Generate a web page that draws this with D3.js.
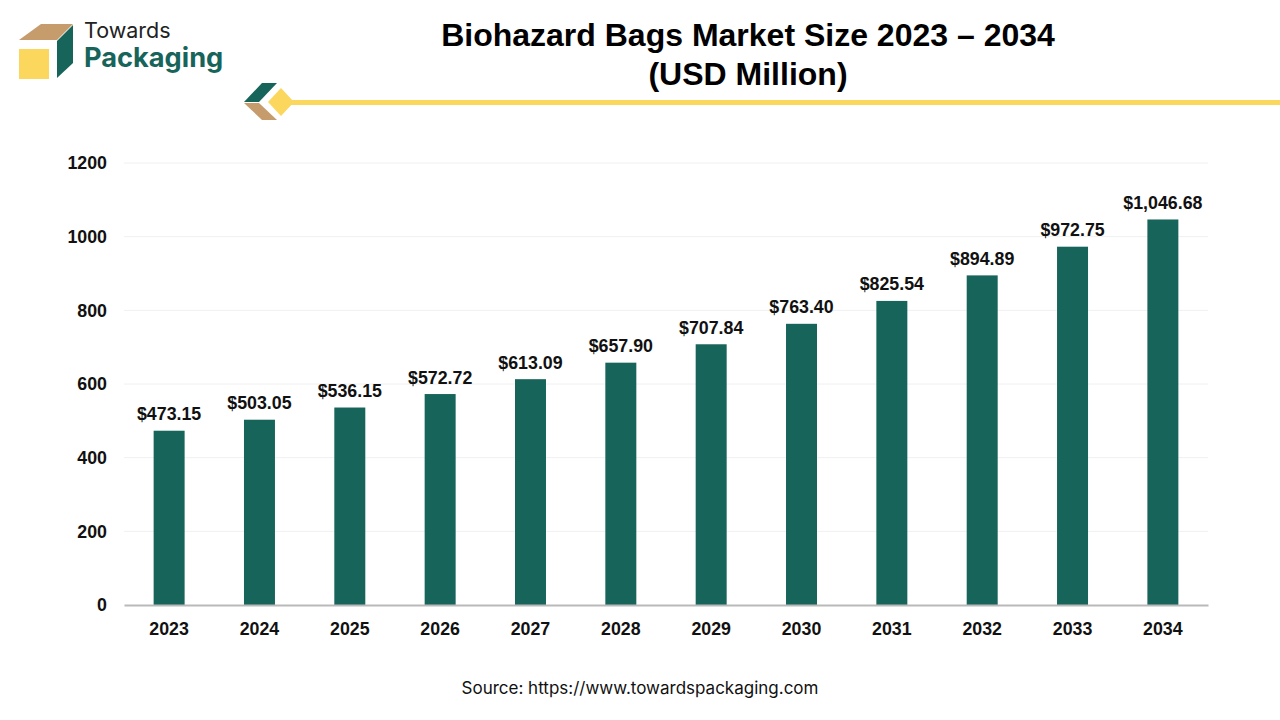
<!DOCTYPE html>
<html>
<head>
<meta charset="utf-8">
<script src="https://cdn.jsdelivr.net/npm/d3@7"></script>
<style>
  html, body { margin: 0; padding: 0; background: #fff; }
  text { font-family: "Liberation Sans", Arial, sans-serif; }
</style>
</head>
<body>
<div id="d3-container"></div>
<script>
const years = ['2023', '2024', '2025', '2026', '2027', '2028', '2029', '2030', '2031', '2032', '2033', '2034'];
const values = [473.15, 503.05, 536.15, 572.72, 613.09, 657.90, 707.84, 763.40, 825.54, 894.89, 972.75, 1046.68];
const yTicks = [0, 200, 400, 600, 800, 1000, 1200];

const width = 1280;
const height = 720;
const margin = { top: 163, bottom: 115, left: 124, right: 72 };
const green = '#17645a';
const yellow = '#fbd75e';
const tan = '#c69c6d';

const svg = d3.select('#d3-container')
  .append('svg')
  .attr('width', width)
  .attr('height', height)
  .style('display', 'block');

const x = d3.scaleBand()
  .domain(years)
  .range([margin.left, width - margin.right])
  .paddingInner(0.657)
  .paddingOuter(0.328);

const y = d3.scaleLinear()
  .domain([0, 1200])
  .range([height - margin.bottom, margin.top]);

// gridlines
svg.append('g')
  .selectAll('line')
  .data(yTicks.slice(1))
  .join('line')
    .attr('x1', margin.left)
    .attr('x2', width - margin.right)
    .attr('y1', d => y(d))
    .attr('y2', d => y(d))
    .attr('stroke', '#f0f0f0')
    .attr('stroke-width', 1);

// bars
svg.append('g')
  .attr('fill', green)
  .selectAll('rect')
  .data(values)
  .join('rect')
    .attr('x', (d, i) => x(years[i]))
    .attr('y', d => y(d))
    .attr('width', x.bandwidth())
    .attr('height', d => y(0) - y(d));

// value labels
svg.append('g')
  .selectAll('text')
  .data(values)
  .join('text')
    .attr('x', (d, i) => x(years[i]) + x.bandwidth() / 2)
    .attr('y', d => y(d) - 10.5)
    .attr('text-anchor', 'middle')
    .attr('font-size', '17.8px')
    .attr('font-weight', 700)
    .attr('fill', '#111')
    .text(d => '$' + d3.format(',.2f')(d));

function yAxis(g) {
  g.attr('transform', `translate(${margin.left}, 0)`)
    .call(d3.axisLeft(y).tickValues(yTicks).tickFormat(d3.format('d')).tickSize(0).tickPadding(17))
    .call(g => g.select('.domain').remove())
    .selectAll('text')
      .attr('font-size', '17.8px')
      .attr('font-weight', 700)
      .attr('fill', '#111')
      .style('font-family', '"Liberation Sans", Arial, sans-serif');
}

function xAxis(g) {
  g.attr('transform', `translate(0,${height - margin.bottom})`)
    .call(d3.axisBottom(x).tickSize(0).tickPadding(17))
    .call(g => g.select('.domain').attr('stroke', '#b9b9b9').attr('stroke-width', 2))
    .selectAll('text')
      .attr('font-size', '17.8px')
      .attr('font-weight', 700)
      .attr('fill', '#111')
      .style('font-family', '"Liberation Sans", Arial, sans-serif');
}

svg.append('g').call(xAxis);
svg.append('g').call(yAxis);

// title
svg.append('text')
  .attr('x', 748).attr('y', 46)
  .attr('text-anchor', 'middle')
  .attr('font-size', '32px').attr('font-weight', 700).attr('fill', '#000')
  .text('Biohazard Bags Market Size 2023 – 2034');
svg.append('text')
  .attr('x', 748).attr('y', 85)
  .attr('text-anchor', 'middle')
  .attr('font-size', '32px').attr('font-weight', 700).attr('fill', '#000')
  .text('(USD Million)');

// source
svg.append('text')
  .attr('x', 640).attr('y', 694)
  .attr('text-anchor', 'middle')
  .attr('font-size', '17px').attr('fill', '#111')
  .style('font-family', 'Inter, sans-serif')
  .text('Source: https://www.towardspackaging.com');

// logo
svg.append('polygon').attr('points', '19,40 41,24 73,24 57,40').attr('fill', tan);
svg.append('rect').attr('x', 19).attr('y', 49).attr('width', 30).attr('height', 30).attr('fill', yellow);
svg.append('polygon').attr('points', '57,41 73,25 73,63 57,78').attr('fill', green);
svg.append('text')
  .attr('x', 84).attr('y', 38)
  .attr('font-size', '21.5px').attr('fill', '#222')
  .style('font-family', 'Inter, sans-serif')
  .text('Towards');
svg.append('text')
  .attr('x', 84).attr('y', 67)
  .attr('font-size', '27.2px').attr('font-weight', 700).attr('fill', green)
  .style('font-family', 'Inter, sans-serif')
  .text('Packaging');

// title rule ornament
svg.append('rect').attr('x', 285).attr('y', 100).attr('width', 995).attr('height', 5).attr('fill', yellow);
svg.append('polygon').attr('points', '244,102 262,83 277,83 259,102').attr('fill', green);
svg.append('polygon').attr('points', '244,103 259,103 277,120 262,120').attr('fill', tan);
svg.append('polygon').attr('points', '268,102 281,88 294,102 281,116').attr('fill', yellow);
</script>
</body>
</html>
